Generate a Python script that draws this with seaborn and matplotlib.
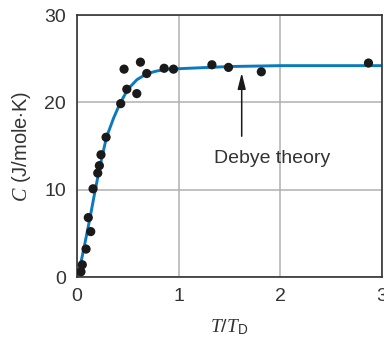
import matplotlib
matplotlib.use("Agg")
import matplotlib.pyplot as plt
import seaborn as sns
import pandas as pd

# Measured data points (T/T_D, C)
pts_x = [0.039, 0.052, 0.089, 0.111, 0.135, 0.158, 0.204, 0.220, 0.236, 0.286,
         0.430, 0.463, 0.490, 0.588, 0.624, 0.686, 0.857, 0.949,
         1.327, 1.490, 1.813, 2.867]
pts_y = [0.6, 1.4, 3.2, 6.8, 5.2, 10.1, 11.9, 12.75, 14.0, 16.0,
         19.85, 23.8, 21.5, 21.0, 24.6, 23.3, 23.9, 23.8,
         24.3, 24.0, 23.5, 24.5]

# Debye theory curve
curve_x = [0.0, 0.03, 0.07, 0.13, 0.18, 0.23, 0.29, 0.36, 0.42, 0.50, 0.59,
           0.69, 0.79, 0.90, 1.10, 1.50, 2.00, 3.00]
curve_y = [0.0, 1.2, 3.4, 6.9, 10.0, 12.9, 16.0, 18.2, 19.8, 21.5, 22.6,
           23.3, 23.6, 23.8, 23.9, 24.1, 24.2, 24.2]

xticks = [0, 1, 2, 3]
yticks = [0, 10, 20, 30]

sns.set_theme(style="white")
plt.rcParams['font.family'] = ['Liberation Sans', 'DejaVu Sans']
plt.rcParams['mathtext.fontset'] = 'custom'
plt.rcParams['mathtext.it'] = 'Liberation Serif:italic'
plt.rcParams['mathtext.rm'] = 'Liberation Sans'
plt.rcParams['mathtext.sf'] = 'Liberation Sans'

fig = plt.figure(figsize=(3.84, 3.42), dpi=100)
ax = fig.add_axes([77/384, 1-277/342, 305/384, 262/342])

curve = pd.DataFrame({"x": curve_x, "y": curve_y})
pts = pd.DataFrame({"x": pts_x, "y": pts_y})

ax.grid(True, color="#b0b0b0", linewidth=1.1, zorder=0)
sns.lineplot(data=curve, x="x", y="y", ax=ax, color="#0b79bd", linewidth=2.1,
             zorder=2, sort=False)
sns.scatterplot(data=pts, x="x", y="y", ax=ax, color="#1a1a1a", s=44,
                edgecolor="none", zorder=3)

ax.set_xlim(0, 3)
ax.set_ylim(0, 30)
ax.set_xticks(xticks)
ax.set_yticks(yticks)
ax.tick_params(axis="x", length=0, labelsize=14, labelcolor="#333333", pad=8)
ax.tick_params(axis="y", length=0, labelsize=14, labelcolor="#333333", pad=8)
for s in ax.spines.values():
    s.set_color("#333333")
    s.set_linewidth(1.2)

ax.set_xlabel(r"$T/T_{\mathrm{D}}$", fontsize=14, color="#333333", labelpad=9)
ax.set_ylabel(r"$C$ (J/mole$\cdot$K)", fontsize=14.5, color="#333333", labelpad=8)

ax.annotate("", xy=(1.62, 23.7), xytext=(1.62, 15.8),
            arrowprops=dict(arrowstyle="-|>,head_length=0.8,head_width=0.2",
                            color="#1a1a1a", lw=1.1))
ax.text(1.92, 13.6, "Debye theory", fontsize=14, color="#333333",
        ha="center", va="center")

fig.savefig("out.png", dpi=100)
